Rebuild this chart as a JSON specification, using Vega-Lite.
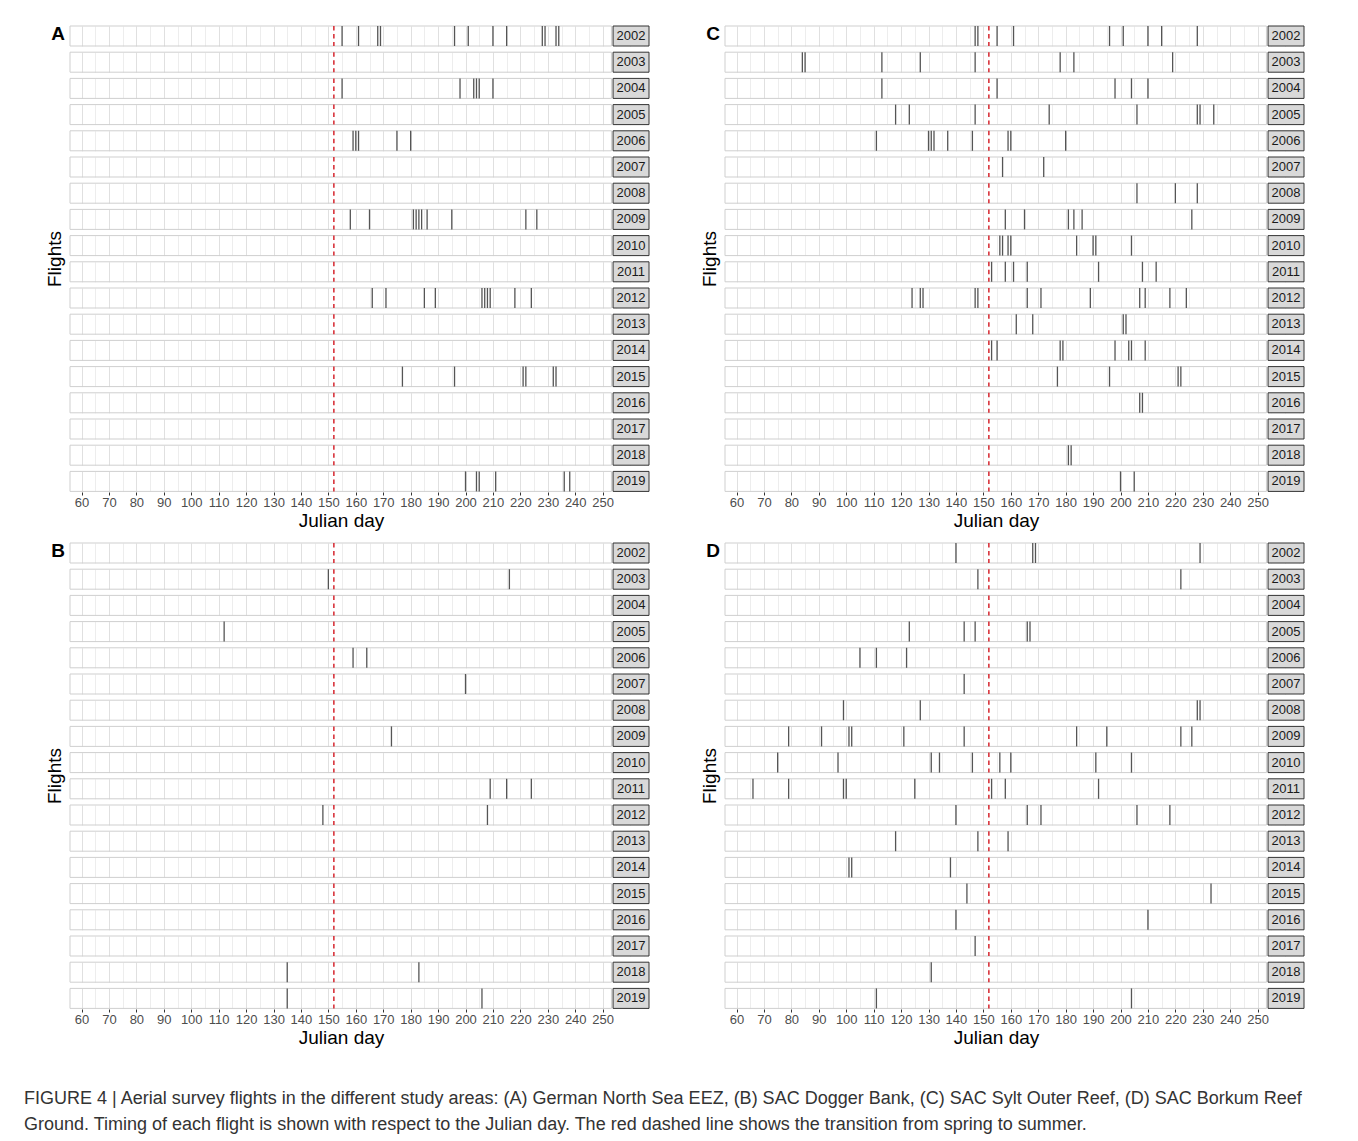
{
"$schema": "https://vega.github.io/schema/vega-lite/v6.json",
"background": "white",
"padding": {"left": 24, "top": 25, "right": 5, "bottom": 5},
"config": {"view": {"stroke": null}, "font": "Liberation Sans",
  "axisX": {"labelOverlap": false, "labelBound": false, "labelFlush": false, "tickCount": 42, "grid": true, "gridColor": "#e2e2e2", "domain": false, "tickSize": 3, "tickColor": "#333333", "labelFontSize": 13, "labelColor": "#4d4d4d", "labelPadding": 1, "titleFontSize": 19, "titleFontWeight": "normal", "titleColor": "#000", "titlePadding": 2, "titleX": 271},
  "header": {"labels": false, "titleFontSize": 19, "titleFontWeight": "normal", "titleColor": "#000", "titlePadding": -5, "titleFont": "Liberation Sans"},
  "title": {"font": "Liberation Sans"}},
"title": {"text": ["FIGURE 4 | Aerial survey flights in the different study areas: (A) German North Sea EEZ, (B) SAC Dogger Bank, (C) SAC Sylt Outer Reef, (D) SAC Borkum Reef", "Ground. Timing of each flight is shown with respect to the Julian day. The red dashed line shows the transition from spring to summer."], "orient": "bottom", "anchor": "start", "frame": "bounds", "fontSize": 18, "fontWeight": "normal", "color": "#333", "lineHeight": 26, "offset": 43, "dx": -22},
"datasets": {"flights": [
{"p":"A","y":2002},{"p":"A","y":2003},{"p":"A","y":2004},{"p":"A","y":2005},{"p":"A","y":2006},{"p":"A","y":2007},{"p":"A","y":2008},{"p":"A","y":2009},{"p":"A","y":2010},{"p":"A","y":2011},{"p":"A","y":2012},{"p":"A","y":2013},{"p":"A","y":2014},{"p":"A","y":2015},{"p":"A","y":2016},{"p":"A","y":2017},{"p":"A","y":2018},{"p":"A","y":2019},
{"p":"B","y":2002},{"p":"B","y":2003},{"p":"B","y":2004},{"p":"B","y":2005},{"p":"B","y":2006},{"p":"B","y":2007},{"p":"B","y":2008},{"p":"B","y":2009},{"p":"B","y":2010},{"p":"B","y":2011},{"p":"B","y":2012},{"p":"B","y":2013},{"p":"B","y":2014},{"p":"B","y":2015},{"p":"B","y":2016},{"p":"B","y":2017},{"p":"B","y":2018},{"p":"B","y":2019},
{"p":"C","y":2002},{"p":"C","y":2003},{"p":"C","y":2004},{"p":"C","y":2005},{"p":"C","y":2006},{"p":"C","y":2007},{"p":"C","y":2008},{"p":"C","y":2009},{"p":"C","y":2010},{"p":"C","y":2011},{"p":"C","y":2012},{"p":"C","y":2013},{"p":"C","y":2014},{"p":"C","y":2015},{"p":"C","y":2016},{"p":"C","y":2017},{"p":"C","y":2018},{"p":"C","y":2019},
{"p":"D","y":2002},{"p":"D","y":2003},{"p":"D","y":2004},{"p":"D","y":2005},{"p":"D","y":2006},{"p":"D","y":2007},{"p":"D","y":2008},{"p":"D","y":2009},{"p":"D","y":2010},{"p":"D","y":2011},{"p":"D","y":2012},{"p":"D","y":2013},{"p":"D","y":2014},{"p":"D","y":2015},{"p":"D","y":2016},{"p":"D","y":2017},{"p":"D","y":2018},{"p":"D","y":2019},
{"p":"A","y":2002,"d":155},{"p":"A","y":2002,"d":161},{"p":"A","y":2002,"d":168},{"p":"A","y":2002,"d":169},{"p":"A","y":2002,"d":196},{"p":"A","y":2002,"d":201},{"p":"A","y":2002,"d":210},{"p":"A","y":2002,"d":215},{"p":"A","y":2002,"d":228},{"p":"A","y":2002,"d":229},{"p":"A","y":2002,"d":233},{"p":"A","y":2002,"d":234},
{"p":"A","y":2004,"d":155},{"p":"A","y":2004,"d":198},{"p":"A","y":2004,"d":203},{"p":"A","y":2004,"d":204},{"p":"A","y":2004,"d":205},{"p":"A","y":2004,"d":210},
{"p":"A","y":2006,"d":159},{"p":"A","y":2006,"d":160},{"p":"A","y":2006,"d":161},{"p":"A","y":2006,"d":175},{"p":"A","y":2006,"d":180},
{"p":"A","y":2009,"d":158},{"p":"A","y":2009,"d":165},{"p":"A","y":2009,"d":181},{"p":"A","y":2009,"d":182},{"p":"A","y":2009,"d":183},{"p":"A","y":2009,"d":184},{"p":"A","y":2009,"d":186},{"p":"A","y":2009,"d":195},{"p":"A","y":2009,"d":222},{"p":"A","y":2009,"d":226},
{"p":"A","y":2012,"d":166},{"p":"A","y":2012,"d":171},{"p":"A","y":2012,"d":185},{"p":"A","y":2012,"d":189},{"p":"A","y":2012,"d":206},{"p":"A","y":2012,"d":207},{"p":"A","y":2012,"d":208},{"p":"A","y":2012,"d":209},{"p":"A","y":2012,"d":218},{"p":"A","y":2012,"d":224},
{"p":"A","y":2015,"d":177},{"p":"A","y":2015,"d":196},{"p":"A","y":2015,"d":221},{"p":"A","y":2015,"d":222},{"p":"A","y":2015,"d":232},{"p":"A","y":2015,"d":233},
{"p":"A","y":2019,"d":200},{"p":"A","y":2019,"d":204},{"p":"A","y":2019,"d":205},{"p":"A","y":2019,"d":211},{"p":"A","y":2019,"d":236},{"p":"A","y":2019,"d":238},
{"p":"B","y":2003,"d":150},{"p":"B","y":2003,"d":216},{"p":"B","y":2005,"d":112},{"p":"B","y":2006,"d":159},{"p":"B","y":2006,"d":164},{"p":"B","y":2007,"d":200},{"p":"B","y":2009,"d":173},{"p":"B","y":2011,"d":209},{"p":"B","y":2011,"d":215},{"p":"B","y":2011,"d":224},{"p":"B","y":2012,"d":148},{"p":"B","y":2012,"d":208},{"p":"B","y":2018,"d":135},{"p":"B","y":2018,"d":183},{"p":"B","y":2019,"d":135},{"p":"B","y":2019,"d":206},
{"p":"C","y":2002,"d":147},{"p":"C","y":2002,"d":148},{"p":"C","y":2002,"d":155},{"p":"C","y":2002,"d":161},{"p":"C","y":2002,"d":196},{"p":"C","y":2002,"d":201},{"p":"C","y":2002,"d":210},{"p":"C","y":2002,"d":215},{"p":"C","y":2002,"d":228},
{"p":"C","y":2003,"d":84},{"p":"C","y":2003,"d":85},{"p":"C","y":2003,"d":113},{"p":"C","y":2003,"d":127},{"p":"C","y":2003,"d":147},{"p":"C","y":2003,"d":178},{"p":"C","y":2003,"d":183},{"p":"C","y":2003,"d":219},
{"p":"C","y":2004,"d":113},{"p":"C","y":2004,"d":155},{"p":"C","y":2004,"d":198},{"p":"C","y":2004,"d":204},{"p":"C","y":2004,"d":210},
{"p":"C","y":2005,"d":118},{"p":"C","y":2005,"d":123},{"p":"C","y":2005,"d":147},{"p":"C","y":2005,"d":174},{"p":"C","y":2005,"d":206},{"p":"C","y":2005,"d":228},{"p":"C","y":2005,"d":229},{"p":"C","y":2005,"d":234},
{"p":"C","y":2006,"d":111},{"p":"C","y":2006,"d":130},{"p":"C","y":2006,"d":131},{"p":"C","y":2006,"d":132},{"p":"C","y":2006,"d":137},{"p":"C","y":2006,"d":146},{"p":"C","y":2006,"d":159},{"p":"C","y":2006,"d":160},{"p":"C","y":2006,"d":180},
{"p":"C","y":2007,"d":157},{"p":"C","y":2007,"d":172},
{"p":"C","y":2008,"d":206},{"p":"C","y":2008,"d":220},{"p":"C","y":2008,"d":228},
{"p":"C","y":2009,"d":158},{"p":"C","y":2009,"d":165},{"p":"C","y":2009,"d":181},{"p":"C","y":2009,"d":183},{"p":"C","y":2009,"d":186},{"p":"C","y":2009,"d":226},
{"p":"C","y":2010,"d":156},{"p":"C","y":2010,"d":157},{"p":"C","y":2010,"d":159},{"p":"C","y":2010,"d":160},{"p":"C","y":2010,"d":184},{"p":"C","y":2010,"d":190},{"p":"C","y":2010,"d":191},{"p":"C","y":2010,"d":204},
{"p":"C","y":2011,"d":153},{"p":"C","y":2011,"d":158},{"p":"C","y":2011,"d":161},{"p":"C","y":2011,"d":166},{"p":"C","y":2011,"d":192},{"p":"C","y":2011,"d":208},{"p":"C","y":2011,"d":213},
{"p":"C","y":2012,"d":124},{"p":"C","y":2012,"d":127},{"p":"C","y":2012,"d":128},{"p":"C","y":2012,"d":147},{"p":"C","y":2012,"d":148},{"p":"C","y":2012,"d":166},{"p":"C","y":2012,"d":171},{"p":"C","y":2012,"d":189},{"p":"C","y":2012,"d":207},{"p":"C","y":2012,"d":209},{"p":"C","y":2012,"d":218},{"p":"C","y":2012,"d":224},
{"p":"C","y":2013,"d":162},{"p":"C","y":2013,"d":168},{"p":"C","y":2013,"d":201},{"p":"C","y":2013,"d":202},
{"p":"C","y":2014,"d":153},{"p":"C","y":2014,"d":155},{"p":"C","y":2014,"d":178},{"p":"C","y":2014,"d":179},{"p":"C","y":2014,"d":198},{"p":"C","y":2014,"d":203},{"p":"C","y":2014,"d":204},{"p":"C","y":2014,"d":209},
{"p":"C","y":2015,"d":177},{"p":"C","y":2015,"d":196},{"p":"C","y":2015,"d":221},{"p":"C","y":2015,"d":222},
{"p":"C","y":2016,"d":207},{"p":"C","y":2016,"d":208},
{"p":"C","y":2018,"d":181},{"p":"C","y":2018,"d":182},
{"p":"C","y":2019,"d":200},{"p":"C","y":2019,"d":205},
{"p":"D","y":2002,"d":140},{"p":"D","y":2002,"d":168},{"p":"D","y":2002,"d":169},{"p":"D","y":2002,"d":229},
{"p":"D","y":2003,"d":148},{"p":"D","y":2003,"d":222},
{"p":"D","y":2005,"d":123},{"p":"D","y":2005,"d":143},{"p":"D","y":2005,"d":147},{"p":"D","y":2005,"d":166},{"p":"D","y":2005,"d":167},
{"p":"D","y":2006,"d":105},{"p":"D","y":2006,"d":111},{"p":"D","y":2006,"d":122},
{"p":"D","y":2007,"d":143},
{"p":"D","y":2008,"d":99},{"p":"D","y":2008,"d":127},{"p":"D","y":2008,"d":228},{"p":"D","y":2008,"d":229},
{"p":"D","y":2009,"d":79},{"p":"D","y":2009,"d":91},{"p":"D","y":2009,"d":101},{"p":"D","y":2009,"d":102},{"p":"D","y":2009,"d":121},{"p":"D","y":2009,"d":143},{"p":"D","y":2009,"d":184},{"p":"D","y":2009,"d":195},{"p":"D","y":2009,"d":222},{"p":"D","y":2009,"d":226},
{"p":"D","y":2010,"d":75},{"p":"D","y":2010,"d":97},{"p":"D","y":2010,"d":131},{"p":"D","y":2010,"d":134},{"p":"D","y":2010,"d":146},{"p":"D","y":2010,"d":156},{"p":"D","y":2010,"d":160},{"p":"D","y":2010,"d":191},{"p":"D","y":2010,"d":204},
{"p":"D","y":2011,"d":66},{"p":"D","y":2011,"d":79},{"p":"D","y":2011,"d":99},{"p":"D","y":2011,"d":100},{"p":"D","y":2011,"d":125},{"p":"D","y":2011,"d":153},{"p":"D","y":2011,"d":158},{"p":"D","y":2011,"d":192},
{"p":"D","y":2012,"d":140},{"p":"D","y":2012,"d":166},{"p":"D","y":2012,"d":171},{"p":"D","y":2012,"d":206},{"p":"D","y":2012,"d":218},
{"p":"D","y":2013,"d":118},{"p":"D","y":2013,"d":148},{"p":"D","y":2013,"d":159},
{"p":"D","y":2014,"d":101},{"p":"D","y":2014,"d":102},{"p":"D","y":2014,"d":138},
{"p":"D","y":2015,"d":144},{"p":"D","y":2015,"d":233},
{"p":"D","y":2016,"d":140},{"p":"D","y":2016,"d":210},
{"p":"D","y":2017,"d":147},
{"p":"D","y":2018,"d":131},
{"p":"D","y":2019,"d":111},{"p":"D","y":2019,"d":204}
]},
"data": {"name": "flights"},
"spacing": 12,
"vconcat": [
{"hconcat": [
{"transform": [{"filter": "datum.p === 'A'"}],
 "title": {"text": "A", "anchor": "start", "frame": "group", "orient": "top", "offset": 0, "dx": -12, "dy": 19, "align": "center", "fontSize": 19, "fontWeight": "bold", "color": "#000"},
 "facet": {"row": {"field": "y", "type": "ordinal", "header": {"title": "Flights"}}},
 "spacing": 6.2, "bounds": "flush",
 "spec": {"width": 579, "height": 20,
  "layer": [
  {"transform": [{"filter": "!isValid(datum.d)"}], "mark": {"type": "rect", "fill": "#d9d9d9", "stroke": "#333333", "strokeWidth": 1}, "encoding": {"x": {"datum": 253.8, "type": "quantitative", "scale": {"domain": [55.8, 266.9], "nice": false, "zero": false}, "title": "Julian day", "axis": {"tickCount": 42, "labelExpr": "datum.value % 10 === 0 && datum.value <= 250 ? datum.label : ''", "tickOpacity": {"condition": {"test": "datum.value % 10 === 0 && datum.value <= 250", "value": 1}, "value": 0}, "gridColor": {"condition": {"test": "datum.value % 10 === 0", "value": "#e0e0e0"}, "value": "#ededed"}}}, "x2": {"datum": 266.9}}},
  {"transform": [{"filter": "!isValid(datum.d)"}], "mark": {"type": "text", "fontSize": 13, "color": "#1a1a1a"}, "encoding": {"x": {"datum": 260.35, "type": "quantitative", "scale": {"domain": [55.8, 266.9], "nice": false, "zero": false}, "title": "Julian day", "axis": {"tickCount": 42, "labelExpr": "datum.value % 10 === 0 && datum.value <= 250 ? datum.label : ''", "tickOpacity": {"condition": {"test": "datum.value % 10 === 0 && datum.value <= 250", "value": 1}, "value": 0}, "gridColor": {"condition": {"test": "datum.value % 10 === 0", "value": "#e0e0e0"}, "value": "#ededed"}}}, "text": {"field": "y", "type": "nominal"}}},
  {"transform": [{"filter": "!isValid(datum.d)"}], "mark": {"type": "rect", "fill": "transparent", "stroke": "#cfcfcf", "strokeWidth": 1}, "encoding": {"x": {"datum": 55.8, "type": "quantitative", "scale": {"domain": [55.8, 266.9], "nice": false, "zero": false}, "title": "Julian day", "axis": {"tickCount": 42, "labelExpr": "datum.value % 10 === 0 && datum.value <= 250 ? datum.label : ''", "tickOpacity": {"condition": {"test": "datum.value % 10 === 0 && datum.value <= 250", "value": 1}, "value": 0}, "gridColor": {"condition": {"test": "datum.value % 10 === 0", "value": "#e0e0e0"}, "value": "#ededed"}}}, "x2": {"datum": 253.2}}},
  {"transform": [{"filter": "!isValid(datum.d)"}], "mark": {"type": "rule", "color": "#d8333b", "strokeDash": [4.5, 3.5], "strokeWidth": 1.6}, "encoding": {"x": {"datum": 152, "type": "quantitative", "scale": {"domain": [55.8, 266.9], "nice": false, "zero": false}, "title": "Julian day", "axis": {"tickCount": 42, "labelExpr": "datum.value % 10 === 0 && datum.value <= 250 ? datum.label : ''", "tickOpacity": {"condition": {"test": "datum.value % 10 === 0 && datum.value <= 250", "value": 1}, "value": 0}, "gridColor": {"condition": {"test": "datum.value % 10 === 0", "value": "#e0e0e0"}, "value": "#ededed"}}}}},
  {"transform": [{"filter": "isValid(datum.d)"}], "mark": {"type": "rule", "color": "#555555", "strokeWidth": 1.3}, "encoding": {"x": {"field": "d", "type": "quantitative", "scale": {"domain": [55.8, 266.9], "nice": false, "zero": false}, "title": "Julian day", "axis": {"tickCount": 42, "labelExpr": "datum.value % 10 === 0 && datum.value <= 250 ? datum.label : ''", "tickOpacity": {"condition": {"test": "datum.value % 10 === 0 && datum.value <= 250", "value": 1}, "value": 0}, "gridColor": {"condition": {"test": "datum.value % 10 === 0", "value": "#e0e0e0"}, "value": "#ededed"}}}}}
 ]}},
{"transform": [{"filter": "datum.p === 'C'"}],
 "title": {"text": "C", "anchor": "start", "frame": "group", "orient": "top", "offset": 0, "dx": -12, "dy": 19, "align": "center", "fontSize": 19, "fontWeight": "bold", "color": "#000"},
 "facet": {"row": {"field": "y", "type": "ordinal", "header": {"title": "Flights"}}},
 "spacing": 6.2, "bounds": "flush",
 "spec": {"width": 579, "height": 20,
  "layer": [
  {"transform": [{"filter": "!isValid(datum.d)"}], "mark": {"type": "rect", "fill": "#d9d9d9", "stroke": "#333333", "strokeWidth": 1}, "encoding": {"x": {"datum": 253.8, "type": "quantitative", "scale": {"domain": [55.8, 266.9], "nice": false, "zero": false}, "title": "Julian day", "axis": {"tickCount": 42, "labelExpr": "datum.value % 10 === 0 && datum.value <= 250 ? datum.label : ''", "tickOpacity": {"condition": {"test": "datum.value % 10 === 0 && datum.value <= 250", "value": 1}, "value": 0}, "gridColor": {"condition": {"test": "datum.value % 10 === 0", "value": "#e0e0e0"}, "value": "#ededed"}}}, "x2": {"datum": 266.9}}},
  {"transform": [{"filter": "!isValid(datum.d)"}], "mark": {"type": "text", "fontSize": 13, "color": "#1a1a1a"}, "encoding": {"x": {"datum": 260.35, "type": "quantitative", "scale": {"domain": [55.8, 266.9], "nice": false, "zero": false}, "title": "Julian day", "axis": {"tickCount": 42, "labelExpr": "datum.value % 10 === 0 && datum.value <= 250 ? datum.label : ''", "tickOpacity": {"condition": {"test": "datum.value % 10 === 0 && datum.value <= 250", "value": 1}, "value": 0}, "gridColor": {"condition": {"test": "datum.value % 10 === 0", "value": "#e0e0e0"}, "value": "#ededed"}}}, "text": {"field": "y", "type": "nominal"}}},
  {"transform": [{"filter": "!isValid(datum.d)"}], "mark": {"type": "rect", "fill": "transparent", "stroke": "#cfcfcf", "strokeWidth": 1}, "encoding": {"x": {"datum": 55.8, "type": "quantitative", "scale": {"domain": [55.8, 266.9], "nice": false, "zero": false}, "title": "Julian day", "axis": {"tickCount": 42, "labelExpr": "datum.value % 10 === 0 && datum.value <= 250 ? datum.label : ''", "tickOpacity": {"condition": {"test": "datum.value % 10 === 0 && datum.value <= 250", "value": 1}, "value": 0}, "gridColor": {"condition": {"test": "datum.value % 10 === 0", "value": "#e0e0e0"}, "value": "#ededed"}}}, "x2": {"datum": 253.2}}},
  {"transform": [{"filter": "!isValid(datum.d)"}], "mark": {"type": "rule", "color": "#d8333b", "strokeDash": [4.5, 3.5], "strokeWidth": 1.6}, "encoding": {"x": {"datum": 152, "type": "quantitative", "scale": {"domain": [55.8, 266.9], "nice": false, "zero": false}, "title": "Julian day", "axis": {"tickCount": 42, "labelExpr": "datum.value % 10 === 0 && datum.value <= 250 ? datum.label : ''", "tickOpacity": {"condition": {"test": "datum.value % 10 === 0 && datum.value <= 250", "value": 1}, "value": 0}, "gridColor": {"condition": {"test": "datum.value % 10 === 0", "value": "#e0e0e0"}, "value": "#ededed"}}}}},
  {"transform": [{"filter": "isValid(datum.d)"}], "mark": {"type": "rule", "color": "#555555", "strokeWidth": 1.3}, "encoding": {"x": {"field": "d", "type": "quantitative", "scale": {"domain": [55.8, 266.9], "nice": false, "zero": false}, "title": "Julian day", "axis": {"tickCount": 42, "labelExpr": "datum.value % 10 === 0 && datum.value <= 250 ? datum.label : ''", "tickOpacity": {"condition": {"test": "datum.value % 10 === 0 && datum.value <= 250", "value": 1}, "value": 0}, "gridColor": {"condition": {"test": "datum.value % 10 === 0", "value": "#e0e0e0"}, "value": "#ededed"}}}}}
 ]}}
], "spacing": 51},
{"hconcat": [
{"transform": [{"filter": "datum.p === 'B'"}],
 "title": {"text": "B", "anchor": "start", "frame": "group", "orient": "top", "offset": 0, "dx": -12, "dy": 19, "align": "center", "fontSize": 19, "fontWeight": "bold", "color": "#000"},
 "facet": {"row": {"field": "y", "type": "ordinal", "header": {"title": "Flights"}}},
 "spacing": 6.2, "bounds": "flush",
 "spec": {"width": 579, "height": 20,
  "layer": [
  {"transform": [{"filter": "!isValid(datum.d)"}], "mark": {"type": "rect", "fill": "#d9d9d9", "stroke": "#333333", "strokeWidth": 1}, "encoding": {"x": {"datum": 253.8, "type": "quantitative", "scale": {"domain": [55.8, 266.9], "nice": false, "zero": false}, "title": "Julian day", "axis": {"tickCount": 42, "labelExpr": "datum.value % 10 === 0 && datum.value <= 250 ? datum.label : ''", "tickOpacity": {"condition": {"test": "datum.value % 10 === 0 && datum.value <= 250", "value": 1}, "value": 0}, "gridColor": {"condition": {"test": "datum.value % 10 === 0", "value": "#e0e0e0"}, "value": "#ededed"}}}, "x2": {"datum": 266.9}}},
  {"transform": [{"filter": "!isValid(datum.d)"}], "mark": {"type": "text", "fontSize": 13, "color": "#1a1a1a"}, "encoding": {"x": {"datum": 260.35, "type": "quantitative", "scale": {"domain": [55.8, 266.9], "nice": false, "zero": false}, "title": "Julian day", "axis": {"tickCount": 42, "labelExpr": "datum.value % 10 === 0 && datum.value <= 250 ? datum.label : ''", "tickOpacity": {"condition": {"test": "datum.value % 10 === 0 && datum.value <= 250", "value": 1}, "value": 0}, "gridColor": {"condition": {"test": "datum.value % 10 === 0", "value": "#e0e0e0"}, "value": "#ededed"}}}, "text": {"field": "y", "type": "nominal"}}},
  {"transform": [{"filter": "!isValid(datum.d)"}], "mark": {"type": "rect", "fill": "transparent", "stroke": "#cfcfcf", "strokeWidth": 1}, "encoding": {"x": {"datum": 55.8, "type": "quantitative", "scale": {"domain": [55.8, 266.9], "nice": false, "zero": false}, "title": "Julian day", "axis": {"tickCount": 42, "labelExpr": "datum.value % 10 === 0 && datum.value <= 250 ? datum.label : ''", "tickOpacity": {"condition": {"test": "datum.value % 10 === 0 && datum.value <= 250", "value": 1}, "value": 0}, "gridColor": {"condition": {"test": "datum.value % 10 === 0", "value": "#e0e0e0"}, "value": "#ededed"}}}, "x2": {"datum": 253.2}}},
  {"transform": [{"filter": "!isValid(datum.d)"}], "mark": {"type": "rule", "color": "#d8333b", "strokeDash": [4.5, 3.5], "strokeWidth": 1.6}, "encoding": {"x": {"datum": 152, "type": "quantitative", "scale": {"domain": [55.8, 266.9], "nice": false, "zero": false}, "title": "Julian day", "axis": {"tickCount": 42, "labelExpr": "datum.value % 10 === 0 && datum.value <= 250 ? datum.label : ''", "tickOpacity": {"condition": {"test": "datum.value % 10 === 0 && datum.value <= 250", "value": 1}, "value": 0}, "gridColor": {"condition": {"test": "datum.value % 10 === 0", "value": "#e0e0e0"}, "value": "#ededed"}}}}},
  {"transform": [{"filter": "isValid(datum.d)"}], "mark": {"type": "rule", "color": "#555555", "strokeWidth": 1.3}, "encoding": {"x": {"field": "d", "type": "quantitative", "scale": {"domain": [55.8, 266.9], "nice": false, "zero": false}, "title": "Julian day", "axis": {"tickCount": 42, "labelExpr": "datum.value % 10 === 0 && datum.value <= 250 ? datum.label : ''", "tickOpacity": {"condition": {"test": "datum.value % 10 === 0 && datum.value <= 250", "value": 1}, "value": 0}, "gridColor": {"condition": {"test": "datum.value % 10 === 0", "value": "#e0e0e0"}, "value": "#ededed"}}}}}
 ]}},
{"transform": [{"filter": "datum.p === 'D'"}],
 "title": {"text": "D", "anchor": "start", "frame": "group", "orient": "top", "offset": 0, "dx": -12, "dy": 19, "align": "center", "fontSize": 19, "fontWeight": "bold", "color": "#000"},
 "facet": {"row": {"field": "y", "type": "ordinal", "header": {"title": "Flights"}}},
 "spacing": 6.2, "bounds": "flush",
 "spec": {"width": 579, "height": 20,
  "layer": [
  {"transform": [{"filter": "!isValid(datum.d)"}], "mark": {"type": "rect", "fill": "#d9d9d9", "stroke": "#333333", "strokeWidth": 1}, "encoding": {"x": {"datum": 253.8, "type": "quantitative", "scale": {"domain": [55.8, 266.9], "nice": false, "zero": false}, "title": "Julian day", "axis": {"tickCount": 42, "labelExpr": "datum.value % 10 === 0 && datum.value <= 250 ? datum.label : ''", "tickOpacity": {"condition": {"test": "datum.value % 10 === 0 && datum.value <= 250", "value": 1}, "value": 0}, "gridColor": {"condition": {"test": "datum.value % 10 === 0", "value": "#e0e0e0"}, "value": "#ededed"}}}, "x2": {"datum": 266.9}}},
  {"transform": [{"filter": "!isValid(datum.d)"}], "mark": {"type": "text", "fontSize": 13, "color": "#1a1a1a"}, "encoding": {"x": {"datum": 260.35, "type": "quantitative", "scale": {"domain": [55.8, 266.9], "nice": false, "zero": false}, "title": "Julian day", "axis": {"tickCount": 42, "labelExpr": "datum.value % 10 === 0 && datum.value <= 250 ? datum.label : ''", "tickOpacity": {"condition": {"test": "datum.value % 10 === 0 && datum.value <= 250", "value": 1}, "value": 0}, "gridColor": {"condition": {"test": "datum.value % 10 === 0", "value": "#e0e0e0"}, "value": "#ededed"}}}, "text": {"field": "y", "type": "nominal"}}},
  {"transform": [{"filter": "!isValid(datum.d)"}], "mark": {"type": "rect", "fill": "transparent", "stroke": "#cfcfcf", "strokeWidth": 1}, "encoding": {"x": {"datum": 55.8, "type": "quantitative", "scale": {"domain": [55.8, 266.9], "nice": false, "zero": false}, "title": "Julian day", "axis": {"tickCount": 42, "labelExpr": "datum.value % 10 === 0 && datum.value <= 250 ? datum.label : ''", "tickOpacity": {"condition": {"test": "datum.value % 10 === 0 && datum.value <= 250", "value": 1}, "value": 0}, "gridColor": {"condition": {"test": "datum.value % 10 === 0", "value": "#e0e0e0"}, "value": "#ededed"}}}, "x2": {"datum": 253.2}}},
  {"transform": [{"filter": "!isValid(datum.d)"}], "mark": {"type": "rule", "color": "#d8333b", "strokeDash": [4.5, 3.5], "strokeWidth": 1.6}, "encoding": {"x": {"datum": 152, "type": "quantitative", "scale": {"domain": [55.8, 266.9], "nice": false, "zero": false}, "title": "Julian day", "axis": {"tickCount": 42, "labelExpr": "datum.value % 10 === 0 && datum.value <= 250 ? datum.label : ''", "tickOpacity": {"condition": {"test": "datum.value % 10 === 0 && datum.value <= 250", "value": 1}, "value": 0}, "gridColor": {"condition": {"test": "datum.value % 10 === 0", "value": "#e0e0e0"}, "value": "#ededed"}}}}},
  {"transform": [{"filter": "isValid(datum.d)"}], "mark": {"type": "rule", "color": "#555555", "strokeWidth": 1.3}, "encoding": {"x": {"field": "d", "type": "quantitative", "scale": {"domain": [55.8, 266.9], "nice": false, "zero": false}, "title": "Julian day", "axis": {"tickCount": 42, "labelExpr": "datum.value % 10 === 0 && datum.value <= 250 ? datum.label : ''", "tickOpacity": {"condition": {"test": "datum.value % 10 === 0 && datum.value <= 250", "value": 1}, "value": 0}, "gridColor": {"condition": {"test": "datum.value % 10 === 0", "value": "#e0e0e0"}, "value": "#ededed"}}}}}
 ]}}
], "spacing": 51}
]
}
